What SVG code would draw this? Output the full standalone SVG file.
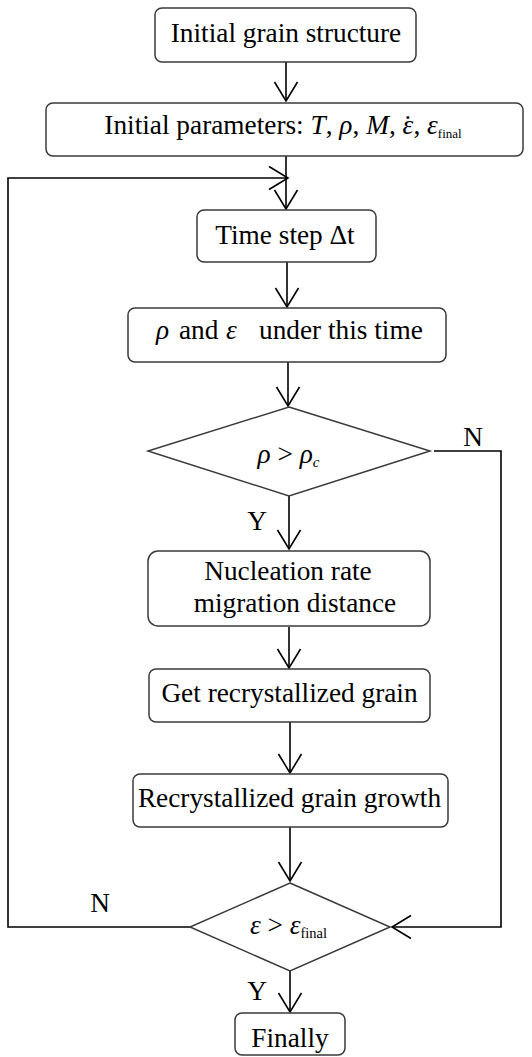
<svg xmlns="http://www.w3.org/2000/svg" width="532" height="1057" viewBox="0 0 532 1057">
<style>
.box{fill:#fff;stroke:#3a3a3a;stroke-width:1.5}
.t{font-family:"Liberation Serif","Times New Roman",serif;font-size:27.3px;fill:#000}
.c{text-anchor:middle}
.i{font-style:italic}
.conn{fill:none;stroke:#000;stroke-width:1.6}
</style>
<defs>
<marker id="v" viewBox="-21 -13 23 26" markerWidth="23" markerHeight="26" refX="0" refY="0" markerUnits="userSpaceOnUse" orient="auto">
<path d="M-19,-11.5 L0,0 L-19,11.5" fill="none" stroke="#000" stroke-width="1.6"/>
</marker>
</defs>
<rect width="532" height="1057" fill="#fff"/>
<g id="connectors" class="conn" marker-end="url(#v)">
<path d="M286,62 V101"/>
<path d="M286,156 V209"/>
<path d="M287,262 V307"/>
<path d="M288,362 V406"/>
<path d="M289,496 V549"/>
<path d="M289,627 V668"/>
<path d="M290,722 V773"/>
<path d="M290,827 V881"/>
<path d="M290,971 V1012"/>
<path d="M434,451 H501 V927 H392"/>
<path d="M190,927 H8 V178 H288"/>
</g>
<g id="labels" class="t">
<text x="473" y="446" class="c">N</text>
<text x="257" y="530" class="c">Y</text>
<text x="100" y="912" class="c">N</text>
<text x="257" y="1000" class="c">Y</text>
</g>
<g id="n1">
<rect class="box" x="155" y="8" width="261" height="54" rx="7"/>
<text class="t c" x="286" y="42">Initial grain structure</text>
</g>
<g id="n2">
<rect class="box" x="46" y="103" width="477" height="53" rx="7"/>
<text class="t c" x="283" y="134">Initial parameters: <tspan class="i">T</tspan>, <tspan class="i">ρ</tspan>, <tspan class="i">M</tspan>, <tspan class="i">ε</tspan><tspan dx="-10">˙</tspan><tspan dx="1">, </tspan><tspan class="i">ε</tspan><tspan font-size="13" dy="4">final</tspan></text>
</g>
<g id="n3">
<rect class="box" x="197" y="210" width="179" height="52" rx="7"/>
<text class="t c" x="285" y="244">Time step Δt</text>
</g>
<g id="n4">
<rect class="box" x="128" y="308" width="318" height="54" rx="7"/>
<text class="t" y="339"><tspan x="156" class="i">ρ</tspan><tspan x="179">and</tspan><tspan x="226" class="i">ε</tspan><tspan x="259">under this time</tspan></text>
</g>
<g id="n5">
<polygon class="box" points="289,407 430,451 289,496 148,451"/>
<text class="t c" x="288.5" y="463"><tspan class="i">ρ</tspan> &gt; <tspan class="i">ρ</tspan><tspan class="i" font-size="15" dy="4">c</tspan></text>
</g>
<g id="n6">
<rect class="box" x="148" y="551" width="282" height="75" rx="10"/>
<text class="t c" x="288" y="580">Nucleation rate</text>
<text class="t c" x="295" y="612">migration distance</text>
</g>
<g id="n7">
<rect class="box" x="149" y="669" width="281" height="53" rx="7"/>
<text class="t c" x="289.5" y="702">Get recrystallized grain</text>
</g>
<g id="n8">
<rect class="box" x="133" y="774" width="315" height="53" rx="7"/>
<text class="t c" x="289.5" y="807">Recrystallized grain growth</text>
</g>
<g id="n9">
<polygon class="box" points="290,883 390,927 290,971 190,927"/>
<text class="t c" x="288.5" y="934" font-size="24"><tspan class="i">ε</tspan> &gt; <tspan class="i">ε</tspan><tspan font-size="14.5" dy="4">final</tspan></text>
</g>
<g id="n10">
<rect class="box" x="235" y="1013" width="110" height="42" rx="7"/>
<text class="t c" x="290" y="1047">Finally</text>
</g>
</svg>
